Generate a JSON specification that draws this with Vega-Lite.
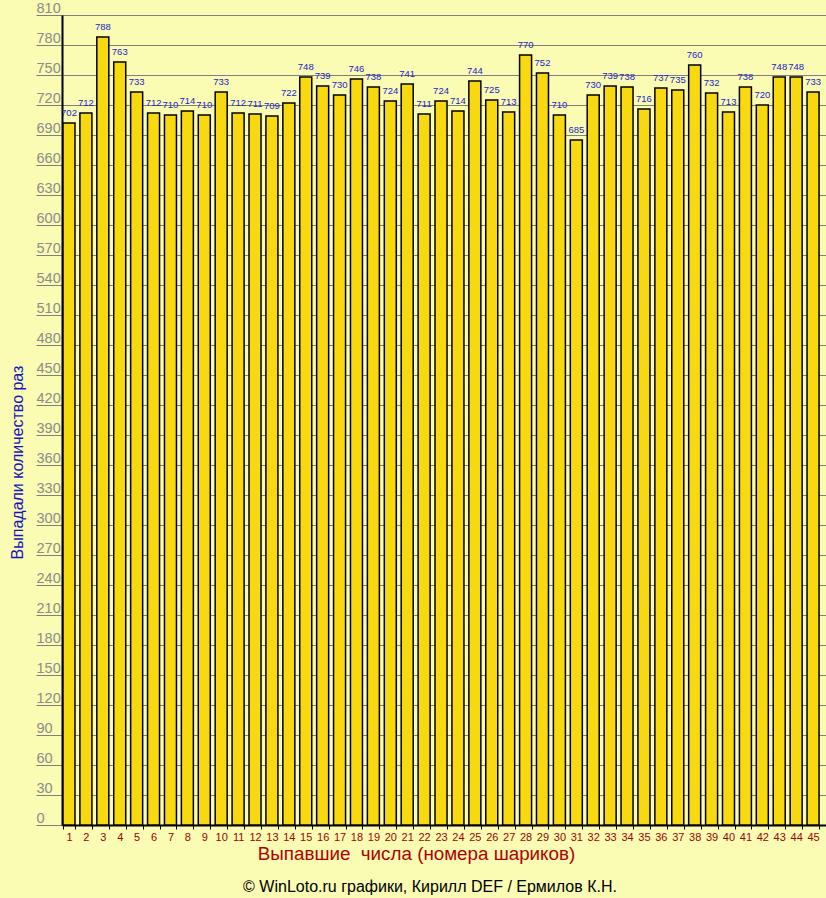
{
  "$schema": "https://vega.github.io/schema/vega-lite/v6.json",
  "autosize": "none",
  "width": 764,
  "height": 810,
  "padding": {"left": 62, "top": 15, "right": 0, "bottom": 73},
  "background": "#F9FCB2",
  "config": {
    "view": {"stroke": null},
    "font": "Liberation Sans"
  },
  "title": {
    "text": "© WinLoto.ru графики, Кирилл DEF / Ермилов К.Н.",
    "orient": "bottom",
    "anchor": "middle",
    "dx": -14,
    "offset": 16,
    "fontSize": 16,
    "fontWeight": "normal",
    "color": "#000000",
    "font": "Liberation Sans"
  },
  "data": {
    "values": [
      {"n": 1, "c": 702}, {"n": 2, "c": 712}, {"n": 3, "c": 788}, {"n": 4, "c": 763}, {"n": 5, "c": 733},
      {"n": 6, "c": 712}, {"n": 7, "c": 710}, {"n": 8, "c": 714}, {"n": 9, "c": 710}, {"n": 10, "c": 733},
      {"n": 11, "c": 712}, {"n": 12, "c": 711}, {"n": 13, "c": 709}, {"n": 14, "c": 722}, {"n": 15, "c": 748},
      {"n": 16, "c": 739}, {"n": 17, "c": 730}, {"n": 18, "c": 746}, {"n": 19, "c": 738}, {"n": 20, "c": 724},
      {"n": 21, "c": 741}, {"n": 22, "c": 711}, {"n": 23, "c": 724}, {"n": 24, "c": 714}, {"n": 25, "c": 744},
      {"n": 26, "c": 725}, {"n": 27, "c": 713}, {"n": 28, "c": 770}, {"n": 29, "c": 752}, {"n": 30, "c": 710},
      {"n": 31, "c": 685}, {"n": 32, "c": 730}, {"n": 33, "c": 739}, {"n": 34, "c": 738}, {"n": 35, "c": 716},
      {"n": 36, "c": 737}, {"n": 37, "c": 735}, {"n": 38, "c": 760}, {"n": 39, "c": 732}, {"n": 40, "c": 713},
      {"n": 41, "c": 738}, {"n": 42, "c": 720}, {"n": 43, "c": 748}, {"n": 44, "c": 748}, {"n": 45, "c": 733}
    ]
  },
  "encoding": {
    "x": {
      "field": "n",
      "type": "ordinal",
      "sort": null,
      "scale": {"paddingInner": 0.29, "paddingOuter": 0.235, "align": 0.126},
      "axis": {
        "title": "Выпавшие\u00a0 числа (номера шариков)",
        "titleColor": "#B00000",
        "titleFontSize": 18.8,
        "titleFontWeight": "normal",
        "titleFont": "Liberation Sans",
        "titleX": 354,
        "titleY": 28,
        "titleBaseline": "middle",
        "labelAngle": 0,
        "labelColor": "#A00000",
        "labelFontSize": 11,
        "labelPadding": 2,
        "tickBand": "extent",
        "tickSize": 4,
        "tickColor": "#000000",
        "domainColor": "#000000",
        "domainWidth": 2,
        "grid": false
      }
    },
    "y": {
      "field": "c",
      "type": "quantitative",
      "scale": {"domain": [0, 810], "nice": false},
      "axis": {
        "title": "Выпадали количество раз",
        "titleColor": "#1414C0",
        "titleFontSize": 16,
        "titleFontWeight": "normal",
        "titleFont": "Liberation Sans",
        "titleX": -45,
        "titleY": 447,
        "titleBaseline": "middle",
        "titleAngle": -90,
        "values": [0, 30, 60, 90, 120, 150, 180, 210, 240, 270, 300, 330, 360, 390, 420, 450, 480, 510, 540, 570, 600, 630, 660, 690, 720, 750, 780, 810],
        "labelAlign": "left",
        "labelBaseline": "bottom",
        "labelPadding": 0,
        "labelColor": "#8C8C8C",
        "labelFontSize": 14.5,
        "labelFlush": false,
        "labelOverlap": false,
        "tickSize": 26,
        "tickColor": "#808080",
        "tickWidth": 1,
        "domainColor": "#000000",
        "domainWidth": 2,
        "grid": true,
        "gridColor": "#808080",
        "gridWidth": 1,
        "gridOpacity": 1
      }
    }
  },
  "layer": [
    {
      "mark": {"type": "bar", "color": "#F8D80E", "stroke": "#000000", "strokeWidth": 1.5}
    },
    {
      "mark": {"type": "text", "baseline": "alphabetic", "dy": -7, "fontSize": 9.5, "color": "#2424C8", "font": "Liberation Sans"},
      "encoding": {"text": {"field": "c", "type": "quantitative"}}
    }
  ]
}
